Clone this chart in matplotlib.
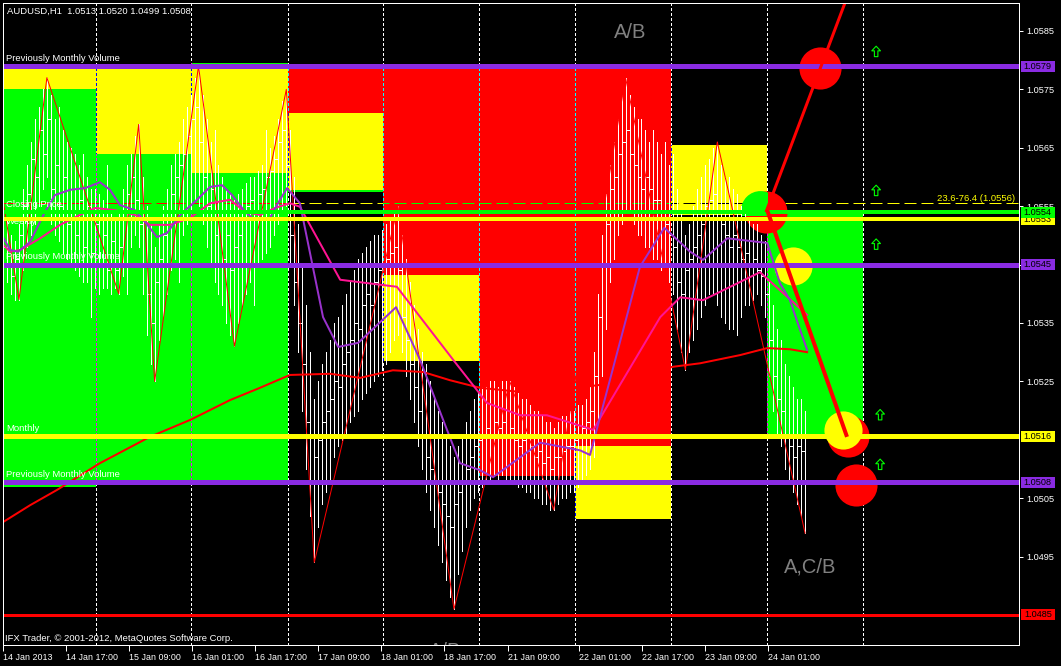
import numpy as np
import matplotlib
matplotlib.use("Agg")
import matplotlib.pyplot as plt
import matplotlib.transforms as mtransforms
from matplotlib.patches import Rectangle
from matplotlib.path import Path
from matplotlib.colors import to_rgb

plt.rcParams['font.family'] = ['Liberation Sans', 'DejaVu Sans']
plt.rcParams['lines.scale_dashes'] = False

# prices are kept in pips above 1.0500
BASE = 1.0500
def price(p):
    return BASE + np.asarray(p, dtype=float) / 10000.0

# ---- H1 bars (bar 0 = 14 Jan 2013), pips above 1.0500
highs = [56, 53, 50, 49, 52, 58, 62, 66, 70, 72, 75, 77, 74, 70, 72, 68, 66, 65, 64, 62,
         64, 60, 58, 58, 57, 56, 62, 54, 53, 54, 58, 62, 64, 67, 69, 60, 55, 52, 48, 52,
         55, 58, 62, 64, 66, 70, 72, 74, 77, 79, 74, 70, 66, 68, 62, 60, 58, 57, 56, 57,
         58, 59, 60, 60, 61, 62, 68, 65, 67, 70, 73, 75, 68, 60, 52, 45, 38, 30, 22, 25,
         28, 30, 32, 35, 36, 38, 40, 42, 44, 46, 47, 48, 49, 50, 50, 51, 52, 53, 54, 55,
         50, 46, 42, 38, 34, 30, 28, 25, 22, 20, 18, 16, 14, 12, 14, 16, 18, 20, 22, 23,
         24, 24, 25, 25, 24, 25, 25, 25, 24, 23, 22, 22, 21, 20, 20, 19, 18, 18, 17, 18,
         19, 19, 20, 20, 21, 21, 22, 24, 30, 40, 50, 57, 62, 66, 70, 74, 77, 74, 72, 70,
         70, 68, 66, 68, 66, 64, 66, 62, 64, 58, 54, 50, 52, 55, 58, 60, 62, 63, 65, 66,
         62, 60, 60, 58, 57, 55, 54, 53, 52, 52, 50, 49, 42, 38, 34, 32, 28, 26, 24, 22,
         22, 20]
lows = [44, 42, 40, 39, 39, 44, 48, 50, 52, 55, 58, 60, 52, 50, 49, 47, 46, 45, 44, 43,
        42, 42, 36, 41, 40, 41, 41, 40, 41, 40, 43, 40, 48, 50, 48, 40, 33, 28, 25, 32,
        36, 40, 44, 46, 42, 50, 52, 54, 56, 55, 52, 48, 45, 42, 40, 38, 35, 33, 31, 35,
        38, 40, 42, 38, 45, 46, 47, 48, 50, 52, 54, 55, 45, 38, 30, 20, 10, 2, -6, 0,
        4, 6, 8, 12, 14, 15, 16, 18, 19, 20, 22, 23, 24, 25, 26, 27, 28, 30, 32, 33,
        30, 26, 22, 18, 14, 10, 6, 3, 0, -3, -6, -9, -12, -14, -8, -4, 0, 3, 5, 6,
        7, 8, 8, 9, 8, 9, 8, 8, 8, 7, 7, 6, 6, 5, 5, 4, 4, 3, 3, 4,
        5, 5, 6, 6, 7, 8, 9, 10, 12, 18, 26, 34, 42, 46, 50, 52, 54, 54, 52, 50,
        50, 48, 48, 46, 46, 44, 45, 42, 40, 34, 30, 27, 30, 32, 34, 36, 38, 40, 40, 38,
        36, 35, 34, 34, 33, 36, 38, 38, 39, 40, 38, 36, 26, 20, 16, 14, 10, 8, 6, 4,
        2, -1]
closes = [48, 45, 43, 46, 50, 55, 57, 63, 60, 68, 64, 70, 58, 62, 55, 60, 52, 58, 50, 56,
          48, 55, 47, 52, 45, 50, 44, 49, 44, 48, 54, 57, 60, 56, 52, 45, 40, 35, 42, 46,
          50, 54, 57, 60, 62, 64, 67, 70, 72, 66, 60, 55, 58, 50, 53, 46, 50, 44, 48, 50,
          53, 55, 56, 54, 57, 58, 60, 61, 63, 66, 68, 62, 50, 42, 35, 28, 18, 8, 12, 15,
          18, 20, 22, 25, 24, 28, 30, 32, 35, 34, 38, 40, 38, 42, 44, 45, 46, 47, 48, 44,
          36, 32, 28, 24, 20, 16, 12, 10, 8, 6, 4, 2, 0, 4, 6, 8, 10, 12, 14, 15,
          16, 17, 16, 18, 17, 18, 16, 17, 15, 14, 15, 13, 14, 12, 13, 11, 12, 10, 12, 12,
          13, 14, 14, 15, 16, 17, 18, 20, 26, 36, 45, 52, 58, 60, 64, 66, 68, 64, 62, 60,
          58, 60, 58, 56, 56, 54, 52, 50, 48, 42, 40, 44, 46, 48, 50, 52, 55, 56, 57, 54,
          52, 50, 48, 50, 48, 46, 47, 45, 46, 44, 43, 40, 32, 26, 22, 20, 16, 14, 12, 14,
          13, 8]
first_open = 50

# zigzag pivots (bar indices) and whether each one is a high
zz_bars = [0, 4, 11, 29, 34, 38, 49, 58, 71, 78, 99, 113, 127, 138, 156, 171, 179, 201]
zz_is_high = [True, False, True, False, True, False, True, False, True, False, True, False,
              True, False, True, False, True, False]

# moving averages: (bar, pips)
ma_fast_x = [0, 1.8, 3.8, 6.8, 10.5, 13, 16.8, 20.6, 24.3, 26.8, 29.3, 33.1, 35.6, 38.6, 41.1,
             44.4, 48.6, 51.9, 54.9, 57.4, 60.7, 63.2, 66.9, 69.4, 71.2, 74.4, 80.2, 84, 89,
             98.5, 104.5, 110.3, 114.5, 119.5, 122.8, 134.6, 144.6, 147.1, 159.6, 165.7,
             172.2, 175.4, 181.5, 191.5, 194.7, 197.2, 199.7, 201.5]
ma_fast_y = [49.7, 47.5, 47.2, 48.9, 54.0, 56.9, 57.8, 58.1, 59.1, 57.8, 55.2, 54.3, 52.3, 49.7,
             50.4, 53.5, 56.1, 58.3, 58.6, 56.9, 54.0, 52.6, 53.0, 56.1, 58.1, 55.5, 36.0, 30.9,
             31.6, 37.7, 28.7, 18.4, 11.0, 9.8, 8.6, 14.5, 13.2, 12.4, 44.6, 51.3, 47.2, 45.8,
             49.5, 48.7, 41.8, 38.9, 33.9, 30.4]
ma_mid_x = [0, 1.8, 4.3, 9.3, 14.3, 19.3, 23.1, 28.1, 33.1, 36.8, 41.9, 46.9, 51.9, 56.9, 60.7,
            64.4, 68.2, 71.9, 74.4, 84.5, 98.7, 112.8, 121.3, 129.6, 136.3, 147.9, 164.7,
            169.7, 175.4, 189.7, 201.5]
ma_mid_y = [48.4, 47.2, 47.5, 49.5, 51.8, 53.5, 54.7, 54.3, 53.5, 51.8, 51.8, 53.0, 55.5, 56.1,
            54.0, 53.5, 54.7, 55.5, 54.9, 42.4, 41.2, 28.7, 21.3, 19.2, 19.2, 16.7, 36.0, 39.4,
            38.9, 43.7, 36.4]
ma_slow_x = [0, 6.8, 13.5, 24.3, 36.8, 46.9, 56.9, 64.4, 71.9, 82, 89.5, 97.7, 105.3, 112,
             119.5, 129.6, 139.6, 149.6, 159.6, 167.9, 174.7, 184.7, 191.5, 197.2, 201.5]
ma_slow_y = [0.9, 3.8, 6.4, 11.0, 15.5, 18.4, 21.8, 23.9, 26.1, 26.3, 25.6, 26.9, 26.6, 25.2,
             23.9, 23.2, 23.5, 24.4, 26.1, 27.5, 28.1, 29.5, 30.7, 30.5, 30.0]

# day boundaries (bars) used for the zones and the grid
day_starts = [0, 23.3, 47.2, 71.3, 95.2, 119.3, 143.4, 167.4, 191.5, 215.5]

GREEN, YELLOW, RED, PURPLE = '#00FF00', '#FFFF00', '#FF0000', '#8A2BE2'
# zones: (from day, to day, top pips, bottom pips, colour) in drawing order
zones = [
    (2, 3, 79.5, 7.8, GREEN),
    (0, 3, 79.0, 60.7, YELLOW),
    (0, 1, 75.1, 6.9, GREEN),
    (1, 2, 63.9, 7.8, GREEN),
    (3, 4, 79.0, 71.0, RED),
    (3, 4, 71.0, 57.8, YELLOW),
    (3, 4, 57.8, 57.5, GREEN),
    (4, 5, 79.0, 43.2, RED),
    (4, 5, 43.2, 28.5, YELLOW),
    (5, 6, 79.0, 8.8, RED),
    (6, 7, 79.0, 13.9, RED),
    (6, 7, 13.9, 1.4, YELLOW),
    (7, 8, 65.5, 53.5, YELLOW),
    (8, 9, 54.0, 15.6, GREEN),
]

# horizontal levels
levels = [1.0579, 1.0554, 1.05528, 1.0545, 1.05156, 1.05077, 1.0485]
level_colors = [PURPLE, GREEN, YELLOW, PURPLE, YELLOW, PURPLE, RED]
level_px = [5, 4, 4, 5, 5, 5, 3]
level_names = ['Previously Monthly Volume', 'Closing Price', 'Weekly',
               'Previously Monthly Volume', 'Monthly', 'Previously Monthly Volume', '']
fib_level = 1.05555

# circles (bar, pips)
red_circles_x = [204.8, 191.2, 211.8, 213.8]
red_circles_y = [78.7, 54.0, 15.6, 7.3]
yellow_circles_x = [198.0, 210.5]
yellow_circles_y = [44.8, 16.7]
green_circle_x, green_circle_y = [189.7], [54.3]

# trend lines (bar, pips)
up_line_x, up_line_y = [191.2, 212.2], [54.0, 92.0]
down_line_x, down_line_y = [191.5, 211.5], [54.3, 15.5]

arrow_x = [218.8, 218.8, 218.8, 219.8, 219.8]
arrow_y = [81.4, 57.6, 48.4, 19.2, 10.7]

wave_labels = ['A/B', 'A,C/B', 'A/B']
wave_x = [157.1, 202.3, 110.8]
wave_y = [84.8, -6.8, -21.2]

tick_bars = [0, 15.8, 31.6, 47.4, 63.2, 79, 94.7, 110.5, 126.6, 144.3, 160.1, 175.9, 191.6]
tick_labels = ['14 Jan 2013', '14 Jan 17:00', '15 Jan 09:00', '16 Jan 01:00', '16 Jan 17:00',
               '17 Jan 09:00', '18 Jan 01:00', '18 Jan 17:00', '21 Jan 09:00', '22 Jan 01:00',
               '22 Jan 17:00', '23 Jan 09:00', '24 Jan 01:00']
price_ticks = [1.0495, 1.0505, 1.0525, 1.0535, 1.0545, 1.0555, 1.0565, 1.0575, 1.0585]


def xor_color(a, b):
    ra = [int(round(v * 255)) for v in to_rgb(a)]
    rb = [int(round(v * 255)) for v in to_rgb(b)]
    return tuple((x ^ y) / 255 for x, y in zip(ra, rb))


PX = 0.72  # one pixel in points
fig = plt.figure(figsize=(10.61, 6.66), dpi=100, facecolor='black')
ax = fig.add_axes([3 / 1061, 21 / 666, 1016 / 1061, 642 / 666])
ax.set_facecolor('black')
ax.set_xlim(0, 254.6)
ax.set_ylim(1.047986, 1.058979)

grid_dash = (0, (2.2 * PX, 2.2 * PX))
fib_dash = (0, (12 * PX, 5 * PX))

# background grid and fib line (seen on black)
for d in day_starts[1:]:
    ax.axvline(d, color='white', lw=PX, ls=grid_dash, zorder=0.5, antialiased=False)
ax.axhline(fib_level, color=YELLOW, lw=PX, ls=fib_dash, zorder=0.5)

# coloured zones; dashed lines are drawn in xor colour inside them
for k, (d0, d1, top, bot, col) in enumerate(zones):
    z = 1 + 0.01 * k
    x0, x1 = day_starts[d0], day_starts[d1]
    rect = Rectangle((x0, price(bot)), x1 - x0, price(top) - price(bot),
                     facecolor=col, edgecolor='none', zorder=z)
    ax.add_patch(rect)
    for d in day_starts[1:]:
        ln = ax.axvline(d, color=xor_color('white', col), lw=PX, ls=grid_dash,
                        zorder=z + 0.005, antialiased=False)
        ln.set_clip_path(rect)
    ln = ax.axhline(fib_level, color=xor_color(YELLOW, col), lw=PX, ls=fib_dash, zorder=z + 0.005)
    ln.set_clip_path(rect)

# circles (under the bars and averages)
circle_s = 920
ax.scatter(red_circles_x, price(red_circles_y), s=circle_s, color=RED, linewidths=0, zorder=2.5)
ax.scatter(yellow_circles_x, price(yellow_circles_y), s=circle_s * 0.82, color=YELLOW,
           linewidths=0, zorder=2.6)
day8 = Rectangle((day_starts[7], price(53.5)), day_starts[8] - day_starts[7],
                 price(65.5) - price(53.5), transform=ax.transData)
gc = ax.scatter(green_circle_x, price(green_circle_y), s=circle_s * 0.85, color=GREEN,
                linewidths=0, zorder=2.7)
gc.set_clip_path(day8)

# OHLC bars
xs = np.arange(len(highs))
opens = [first_open] + closes[:-1]
ax.vlines(xs, price(lows), price(highs), colors='white', lw=PX, zorder=3, antialiased=False)
ax.hlines(price(opens), xs - 0.45, xs, colors='white', lw=PX, zorder=3, antialiased=False)
ax.hlines(price(closes), xs, xs + 0.45, colors='white', lw=PX, zorder=3, antialiased=False)

# zigzag
zz_y = [highs[b] if h else lows[b] for b, h in zip(zz_bars, zz_is_high)]
ax.plot(zz_bars, price(zz_y), color=RED, lw=PX, zorder=3.5)

# moving averages
ax.plot(ma_slow_x, price(ma_slow_y), color=RED, lw=2 * PX, zorder=4)
ax.plot(ma_mid_x, price(ma_mid_y), color='#FF1493', lw=2 * PX, zorder=4.1)
ax.plot(ma_fast_x, price(ma_fast_y), color='#9932CC', lw=2 * PX, zorder=4.2)

# level lines and their names
for lv, col, w, name in zip(levels, level_colors, level_px, level_names):
    ax.axhline(lv, color=col, lw=w * PX, zorder=6)
    if name:
        zt = 5.9 if name == 'Weekly' else 8
        off = -5 if name == 'Weekly' else w * PX / 2 + 0.5
        ax.annotate(name, (2, lv), xytext=(0, off), textcoords='offset points',
                    xycoords=('axes points', 'data'), color='white', fontsize=6.8,
                    va='bottom', ha='left', zorder=zt)

# trend lines
ax.plot(up_line_x, price(up_line_y), color=RED, lw=3 * PX, zorder=7, solid_capstyle='butt')
ax.plot(down_line_x, price(down_line_y), color=RED, lw=4 * PX, zorder=7, solid_capstyle='butt')

# arrows
arrow_path = Path([(0, 1), (0.75, 0.2), (0.3, 0.2), (0.3, -0.8), (-0.3, -0.8), (-0.3, 0.2),
                   (-0.75, 0.2), (0, 1)],
                  [Path.MOVETO] + [Path.LINETO] * 6 + [Path.CLOSEPOLY])
ax.scatter(arrow_x, price(arrow_y), marker=arrow_path, s=70, facecolors='none',
           edgecolors=GREEN, linewidths=0.8, zorder=7)

# wave labels
for t, x, y in zip(wave_labels, wave_x, wave_y):
    ax.text(x, price(y), t, color='#808080', fontsize=14.5, ha='center', va='center',
            zorder=8, clip_on=True)

ax.text(253.6, fib_level, '23.6-76.4 (1.0556)', color=YELLOW, fontsize=6.8, ha='right',
        va='bottom', zorder=8)
ax.text(0.004, 1 - 4 / 642, 'AUDUSD,H1  1.0513 1.0520 1.0499 1.0508', transform=ax.transAxes,
        color='white', fontsize=6.8, ha='left', va='top', zorder=8)
ax.text(0.002, 2 / 642, 'IFX Trader, \u00a9 2001-2012, MetaQuotes Software Corp.',
        transform=ax.transAxes, color='white', fontsize=6.8, ha='left', va='bottom', zorder=8)

# axes
for sp in ax.spines.values():
    sp.set_color('white')
    sp.set_linewidth(PX)
    sp.set_zorder(9)
ax.yaxis.tick_right()
ax.set_yticks(price_ticks, [f'{v:.4f}' for v in price_ticks])
ax.tick_params(axis='y', colors='white', length=3, width=PX, labelsize=6.6, pad=2)
ax.set_xticks(tick_bars, tick_labels)
ax.tick_params(axis='x', colors='white', length=4, width=PX, labelsize=6.4, pad=2)
for lbl in ax.get_xticklabels():
    lbl.set_ha('left')

# price boxes on the right axis (the green closing-price box sits over the yellow one)
blend = mtransforms.blended_transform_factory(ax.transAxes, ax.transData)
box_h = 11 / 58400
order = [0, 3, 2, 1, 4, 5, 6]
for n, i in enumerate(order):
    lv, col = levels[i], level_colors[i]
    ax.add_patch(Rectangle((1.0018, lv - box_h / 2), 0.0335, box_h, transform=blend,
                           facecolor=col, edgecolor='none', clip_on=False, zorder=20 + n * 0.1))
    ax.text(1.0185, lv, f'{lv:.4f}', transform=blend, ha='center', va='center',
            color='black', fontsize=6.6, clip_on=False, zorder=20.05 + n * 0.1)

fig.savefig('out.png', dpi=100, facecolor='black')
